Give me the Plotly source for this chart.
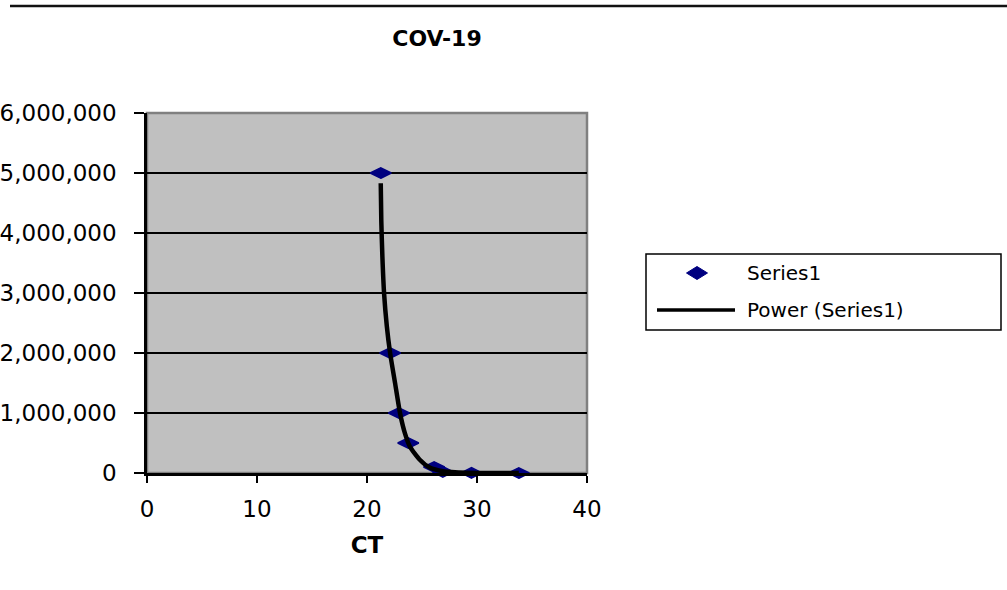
import plotly.graph_objects as go

# ---- data ----
ct_values = [21.25, 22.1, 22.9, 23.75, 26.1, 26.9, 29.5, 33.8]
copies = [5000000, 2000000, 1000000, 500000, 100000, 20000, 1000, 100]

trend_x = [21.25, 21.3, 21.4, 21.55, 21.8, 22.1, 22.55, 23.0, 23.45, 23.9, 24.8, 25.7, 26.9, 29.1, 33.8]
trend_y = [4830000, 4200000, 3600000, 3000000, 2450000, 2000000, 1500000, 1000000,
           660000, 440000, 220000, 90000, 30000, 5000, 500]

x_ticks = [0, 10, 20, 30, 40]
y_ticks = [0, 1000000, 2000000, 3000000, 4000000, 5000000, 6000000]

title_text = "COV-19"
x_title = "CT"
series_name = "Series1"
trend_name = "Power (Series1)"

FONT = "DejaVu Sans"
NAVY = "#000080"

fig = go.Figure()
fig.add_trace(go.Scatter(
    x=ct_values, y=copies, mode="markers", name=series_name,
    marker=dict(symbol="diamond-wide", size=15, color=NAVY,
                line=dict(color=NAVY, width=1.5)),
    showlegend=False, cliponaxis=False,
))
fig.add_trace(go.Scatter(
    x=trend_x, y=trend_y, mode="lines", name=trend_name,
    line=dict(color="black", width=4.5, shape="spline", smoothing=0.6),
    showlegend=False,
))

# plot area geometry (pixels)
L, R, T, B = 147, 587, 113, 473
W, H = 1007, 590
pw, ph = R - L, B - T

def px(xp):
    return (xp - L) / pw

def py(yp):
    return (B - yp) / ph

shapes = [
    # grey border of plot area (top/right)
    dict(type="rect", xref="paper", yref="paper", x0=0, y0=0, x1=1, y1=1,
         line=dict(color="#808080", width=2.5), layer="below"),
    # top rule line of the chart area
    dict(type="line", xref="paper", yref="paper", x0=px(10), x1=px(1007),
         y0=py(6), y1=py(6), line=dict(color="#111111", width=2.5)),
    # legend box
    dict(type="rect", xref="paper", yref="paper", x0=px(646), x1=px(1001),
         y0=py(330), y1=py(254), line=dict(color="black", width=1.5),
         fillcolor="white"),
    # legend line sample
    dict(type="line", xref="paper", yref="paper", x0=px(657), x1=px(735),
         y0=py(310), y1=py(310), line=dict(color="black", width=3.5)),
]
# legend diamond sample
cx, cy, hw, hh = 697, 273, 10.5, 6.5
shapes.append(dict(
    type="path", xref="paper", yref="paper",
    path=(f"M {px(cx - hw)},{py(cy)} L {px(cx)},{py(cy - hh)} "
          f"L {px(cx + hw)},{py(cy)} L {px(cx)},{py(cy + hh)} Z"),
    fillcolor=NAVY, line=dict(color=NAVY, width=1)))

annotations = [
    dict(text=series_name, xref="paper", yref="paper", x=px(745), y=py(273),
         xanchor="left", yanchor="middle", showarrow=False,
         font=dict(family=FONT, size=20, color="black")),
    dict(text=trend_name, xref="paper", yref="paper", x=px(745), y=py(310),
         xanchor="left", yanchor="middle", showarrow=False,
         font=dict(family=FONT, size=20, color="black")),
]

fig.update_layout(
    width=W, height=H,
    margin=dict(l=L, r=W - R, t=T, b=H - B, pad=0),
    paper_bgcolor="white", plot_bgcolor="#c0c0c0",
    showlegend=False,
    title=dict(text=title_text, x=437 / W, xref="container", xanchor="center",
               y=1 - 38 / H, yref="container", yanchor="middle",
               font=dict(family=FONT, size=22, color="black", weight="bold")),
    shapes=shapes, annotations=annotations,
    font=dict(family=FONT, color="black"),
)
fig.update_xaxes(
    range=[0, 40], tickvals=x_ticks, ticks="outside", ticklen=7, tickwidth=1.5,
    tickcolor="black", showline=True, linecolor="black", linewidth=2.5,
    showgrid=False, zeroline=False, automargin=False,
    tickfont=dict(family=FONT, size=23, color="black"), ticklabelstandoff=7,
    title=dict(text=x_title, font=dict(family=FONT, size=23, color="black", weight="bold"),
               standoff=16),
)
fig.update_yaxes(
    range=[0, 6000000], tickvals=y_ticks, tickformat=",d", ticks="outside",
    ticklen=10, tickwidth=1.5, tickcolor="black", showline=True,
    linecolor="black", linewidth=2.5, showgrid=True, gridcolor="black",
    gridwidth=1.5, zeroline=False, automargin=False,
    tickfont=dict(family=FONT, size=23, color="black"), ticklabelstandoff=13,
)

fig.write_html("out.html")
